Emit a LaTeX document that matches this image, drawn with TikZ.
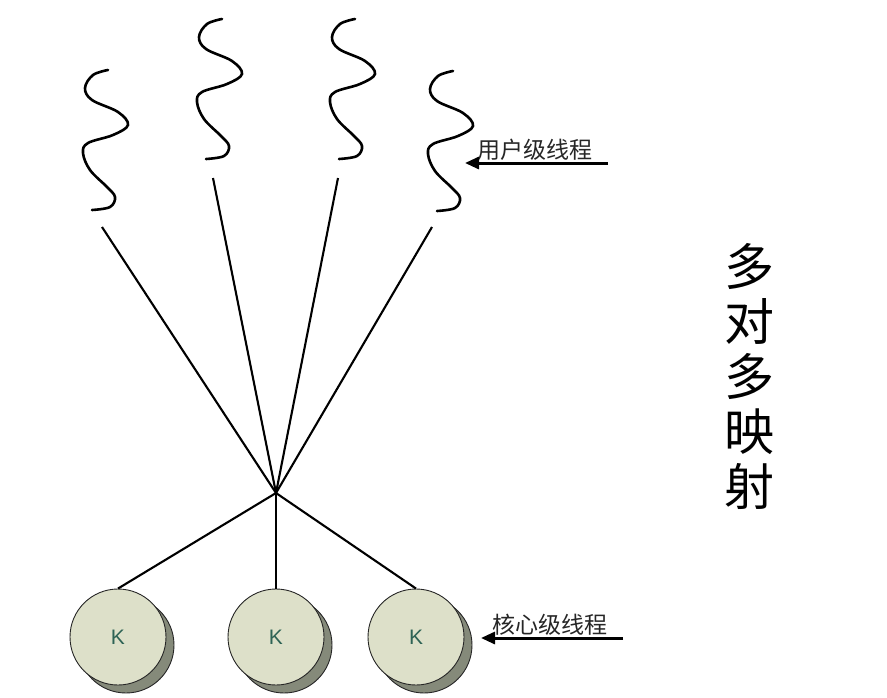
\documentclass[tikz,border=0pt]{standalone}
\usepackage{fontspec}
\newfontfamily\cjk{Noto Sans CJK SC}
\setsansfont{Liberation Sans}
\usetikzlibrary{arrows.meta,calc}
\definecolor{kfill}{HTML}{DDE0C9}
\definecolor{kshade}{HTML}{858A7A}
\definecolor{ktext}{HTML}{2E6355}
\tikzset{
  wave/.style={line width=2.6pt, line cap=round, black},
  link/.style={line width=2.1pt, black},
  kthread/.style={circle, draw=black!85, line width=0.9pt, fill=kfill, minimum size=96pt, inner sep=0pt, font=\sffamily\fontsize{21}{21}\selectfont, text=ktext},
  kshadow/.style={circle, draw=black!85, line width=0.9pt, fill=kshade, minimum size=96pt, inner sep=0pt},
  pointer/.style={line width=3pt, -{Triangle[length=14pt,width=12pt]}},
  lab/.style={font=\cjk\fontsize{23}{23}\selectfont, text=black!85, inner sep=0pt},
  big/.style={font=\cjk\fontsize{50}{55}\selectfont, align=center, inner sep=0pt}
}
\newcommand{\squiggle}[2]{%
  \draw[wave] plot[smooth, tension=0.6] coordinates {
    ($(#1,#2)+(0,0)$) ($(#1,#2)+(-15,5)$) ($(#1,#2)+(-23,18)$) ($(#1,#2)+(-16,30)$)
    ($(#1,#2)+(10,42)$) ($(#1,#2)+(20,55)$) ($(#1,#2)+(5,65)$) ($(#1,#2)+(-20,73)$)
    ($(#1,#2)+(-25,83)$) ($(#1,#2)+(-18,100)$) ($(#1,#2)+(-1,117)$) ($(#1,#2)+(7,127)$)
    ($(#1,#2)+(2,137)$) ($(#1,#2)+(-16,140)$)};}
\begin{document}
\begin{tikzpicture}[x=1pt,y=-1pt]
\useasboundingbox (0,0) rectangle (887,697);
% user-level threads
\squiggle{108}{70}
\squiggle{222}{19}
\squiggle{355}{19}
\squiggle{453}{71}
% connector endpoints
\coordinate (u1) at (102,227);
\coordinate (u2) at (213,178);
\coordinate (u3) at (338,178);
\coordinate (u4) at (432,227);
\coordinate (hub) at (276,493);
\coordinate (c1) at (118,637);
\coordinate (c2) at (276,637);
\coordinate (c3) at (416,637);
% shadows
\foreach \c in {c1,c2,c3}
  \node[kshadow] at ($(\c)+(8,8)$) {};
% kernel threads
\node[kthread] (k1) at (c1) {K};
\node[kthread] (k2) at (c2) {K};
\node[kthread] (k3) at (c3) {K};
% connectors
\foreach \u in {u1,u2,u3,u4}
  \draw[link] (\u) -- (hub);
\foreach \k in {k1,k2,k3}
  \draw[link] (hub) -- (\k.north);
% labels
\node[lab] (ul) at (535,150) {用户级线程};
\coordinate (ua) at (608,163);
\draw[pointer] (ua) -- (465,163);
\node[lab] (kl) at (550,625) {核心级线程};
\coordinate (ka) at (623,638);
\draw[pointer] (ka) -- (481,638);
\node[big] (title) at (749,376) {多\\对\\多\\映\\射};
\end{tikzpicture}
\end{document}
